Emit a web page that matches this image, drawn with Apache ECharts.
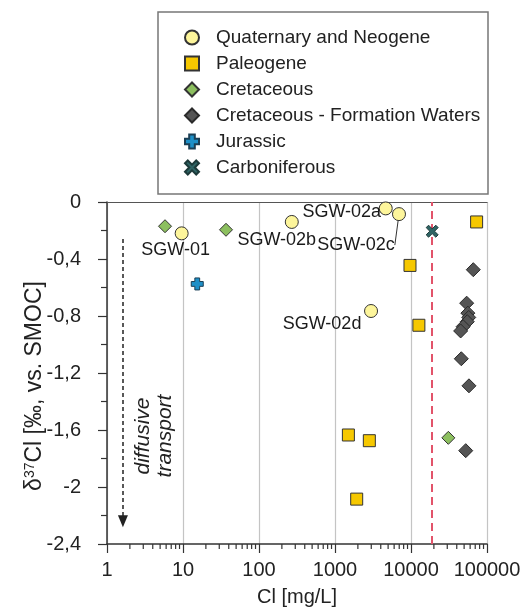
<!DOCTYPE html>
<html>
<head>
<meta charset="utf-8">
<script src="https://cdn.jsdelivr.net/npm/echarts@6/dist/echarts.min.js"></script>
<style>html,body{margin:0;padding:0;background:#fff}#c{width:525px;height:612px}</style>
</head>
<body>
<div id="c"></div>
<script>
// ---- data (Cl [mg/L], δ37Cl [‰]) ----
const quaternaryNames = ['SGW-01', 'SGW-02b', 'SGW-02a', 'SGW-02c', 'SGW-02d'];
const quaternaryCl    = [9.6, 270, 4650, 6950, 2980];
const quaternaryD37   = [-0.22, -0.14, -0.045, -0.085, -0.765];

const paleogeneCl  = [73000, 9700, 12700, 1500, 2830, 1930];
const paleogeneD37 = [-0.14, -0.445, -0.865, -1.635, -1.675, -2.085];

const cretaceousCl  = [5.8, 36.8, 31000];
const cretaceousD37 = [-0.17, -0.195, -1.655];

const formationCl  = [66000, 54000, 56000, 57500, 55000, 48500, 45000, 45900, 57900, 52500];
const formationD37 = [-0.475, -0.71, -0.78, -0.81, -0.84, -0.875, -0.905, -1.10, -1.29, -1.745];

const jurassicCl  = [15.4];
const jurassicD37 = [-0.575];

const carboniferousCl  = [19000];
const carboniferousD37 = [-0.205];

const seawaterCl = 19000;                 // red dashed reference line
const arrowCl = 1.62, arrowFrom = -0.26, arrowTo = -2.24;  // "diffusive transport" arrow

const xTicks = [1, 10, 100, 1000, 10000, 100000];
const yTicks = [0, -0.4, -0.8, -1.2, -1.6, -2, -2.4];
const minorMultipliers = [2, 3, 4, 5, 6, 7, 8, 9];

const seriesNames = ['Quaternary and Neogene', 'Paleogene', 'Cretaceous',
  'Cretaceous - Formation Waters', 'Jurassic', 'Carboniferous'];

// ---- styling ----
const FONT = '"Liberation Sans", Arial, Helvetica, sans-serif';
const labelOffsets = {
  'SGW-01':  [-6, 17],
  'SGW-02b': [-15, 18],
  'SGW-02a': [-44, 4],
  'SGW-02c': [-43, 31],
  'SGW-02d': [-49, 13]
};
const plusPath = 'path://M3,0H7V3H10V7H7V10H3V7H0V3H3Z';
const xPath = 'path://M2,0L5,3L8,0L10,2L7,5L10,8L8,10L5,7L2,10L0,8L3,5L0,2Z';

function zip(xs, ys) { return xs.map((x, i) => [x, ys[i]]); }

const minorTickValues = [];
for (let i = 0; i < xTicks.length - 1; i++) {
  minorMultipliers.forEach(m => minorTickValues.push(m * xTicks[i]));
}

const chart = echarts.init(document.getElementById('c'), null, {renderer: 'canvas'});

const option = {
  animation: false,
  backgroundColor: '#fff',
  textStyle: {fontFamily: FONT},
  graphic: [
    {
      type: 'rect', z: 0,
      shape: {x: 158, y: 12, width: 330, height: 182},
      style: {fill: '#fff', stroke: '#777', lineWidth: 1.5}
    },
    {
      type: 'text', z: 10,
      x: 154, y: 436, rotation: Math.PI / 2,
      style: {
        text: 'diffusive\ntransport',
        font: 'italic 21px ' + FONT,
        fill: '#222',
        align: 'center', verticalAlign: 'middle',
        lineHeight: 22
      }
    }
  ],
  legend: {
    orient: 'vertical',
    left: 179, top: 23,
    itemGap: 7,
    itemWidth: 14, itemHeight: 14,
    data: seriesNames,
    textStyle: {fontSize: 19, color: '#222', fontFamily: FONT, padding: [0, 0, 0, 12]},
    selectedMode: false
  },
  grid: {left: 107, top: 202, width: 380, height: 346, containLabel: false},
  xAxis: [
    {
      type: 'log', logBase: 10, min: 1, max: 100000,
      name: 'Cl [mg/L]', nameLocation: 'middle', nameGap: 43,
      nameMoveOverlap: false,
      nameTextStyle: {fontSize: 20, color: '#222', fontFamily: FONT},
      axisLine: {show: true, onZero: false, lineStyle: {color: '#333', width: 1.5}},
      axisTick: {show: true, inside: false, length: 9, lineStyle: {color: '#333', width: 1.2}},
      minorTick: {show: false},
      axisLabel: {
        fontSize: 20, color: '#222', margin: 16, fontFamily: FONT,
        formatter: v => String(Math.round(v))
      },
      splitLine: {show: true, lineStyle: {color: '#c4c4c4', width: 1.2}}
    },
    {
      type: 'log', logBase: 10, min: 1, max: 100000, position: 'top',
      axisLine: {show: true, onZero: false, lineStyle: {color: '#555', width: 1.2}},
      axisTick: {show: false}, axisLabel: {show: false}, splitLine: {show: false}
    }
  ],
  yAxis: {
    type: 'value', min: -2.4, max: 0, interval: 0.4,
    name: '{t|δ}{sup|37}{t|Cl [‰, vs. SMOC]}',
    nameLocation: 'middle', nameGap: 60, nameRotate: 90,
    nameMoveOverlap: false,
    nameTextStyle: {
      color: '#222', fontFamily: FONT, padding: [0, 26, 0, 0],
      rich: {
        t: {fontSize: 23, color: '#222', fontFamily: FONT},
        sup: {fontSize: 14, color: '#222', fontFamily: FONT, verticalAlign: 'bottom', padding: [0, 0, 10, 0]}
      }
    },
    axisLine: {show: true, onZero: false, lineStyle: {color: '#333', width: 1.5}},
    axisTick: {show: true, inside: false, length: 9, lineStyle: {color: '#333', width: 1.2}},
    minorTick: {show: true, splitNumber: 2, length: 6, lineStyle: {color: '#333', width: 1.2}},
    axisLabel: {
      fontSize: 20, color: '#222', margin: 26, fontFamily: FONT,
      formatter: v => String(Math.round(v * 10) / 10).replace('.', ',')
    },
    splitLine: {show: false}
  },
  series: [
    {
      name: seriesNames[0], type: 'scatter', z: 5,
      symbol: 'circle', symbolSize: 13,
      itemStyle: {color: '#fdf59b', borderColor: '#333', borderWidth: 1, opacity: 1},
      data: quaternaryNames.map((n, i) => ({
        name: n, value: [quaternaryCl[i], quaternaryD37[i]],
        labelLine: {show: n === 'SGW-02c', lineStyle: {color: '#333', width: 1}}
      })),
      label: {
        show: true, position: 'inside', formatter: '{b}',
        fontSize: 18, color: '#1a1a1a', fontFamily: FONT,
        textBorderWidth: 0, textBorderColor: 'transparent'
      },
      labelLayout: p => {
        const o = labelOffsets[quaternaryNames[p.dataIndex]];
        return {dx: o[0], dy: o[1]};
      },
      labelLine: {show: false}
    },
    {
      name: seriesNames[1], type: 'scatter', z: 5,
      symbol: 'rect', symbolSize: 12,
      itemStyle: {color: '#f6c800', borderColor: '#333', borderWidth: 1, opacity: 1},
      data: zip(paleogeneCl, paleogeneD37)
    },
    {
      name: seriesNames[2], type: 'scatter', z: 5,
      symbol: 'diamond', symbolSize: 13,
      itemStyle: {color: '#8cbf5f', borderColor: '#333', borderWidth: 1, opacity: 1},
      data: zip(cretaceousCl, cretaceousD37)
    },
    {
      name: seriesNames[3], type: 'scatter', z: 5,
      symbol: 'diamond', symbolSize: 14,
      itemStyle: {color: '#555555', borderColor: '#2a2a2a', borderWidth: 1, opacity: 1},
      data: zip(formationCl, formationD37)
    },
    {
      name: seriesNames[4], type: 'scatter', z: 6,
      symbol: plusPath, symbolSize: 12,
      itemStyle: {color: '#1e90c8', borderColor: '#1b3f55', borderWidth: 1, opacity: 1},
      data: zip(jurassicCl, jurassicD37)
    },
    {
      name: seriesNames[5], type: 'scatter', z: 6,
      symbol: xPath, symbolSize: 12,
      itemStyle: {color: '#2f6464', borderColor: '#1d3a3a', borderWidth: 1, opacity: 1},
      data: zip(carboniferousCl, carboniferousD37)
    },
    {
      name: 'annotations', type: 'scatter', data: [], z: 3,
      markLine: {
        silent: true, animation: false,
        label: {show: false},
        data: [
          {
            xAxis: seawaterCl, symbol: 'none',
            lineStyle: {color: '#e2536a', type: [8, 5], width: 2}
          },
          [
            {coord: [arrowCl, arrowFrom], symbol: 'none',
             lineStyle: {color: '#222', type: [4, 3], width: 1.5}},
            {coord: [arrowCl, arrowTo], symbol: 'triangle', symbolSize: [10, 12]}
          ]
        ],
        symbol: ['none', 'none']
      }
    },
    {
      name: 'minorTicks', type: 'custom', silent: true, z: 4,
      clip: false,
      data: minorTickValues.map(v => [v, -2.4]),
      renderItem: (params, api) => {
        const p = api.coord([api.value(0), api.value(1)]);
        return {
          type: 'line',
          shape: {x1: p[0], y1: p[1], x2: p[0], y2: p[1] + 5},
          style: {stroke: '#333', lineWidth: 1.2}
        };
      }
    }
  ]
};
chart.setOption(option);
</script>
</body>
</html>
